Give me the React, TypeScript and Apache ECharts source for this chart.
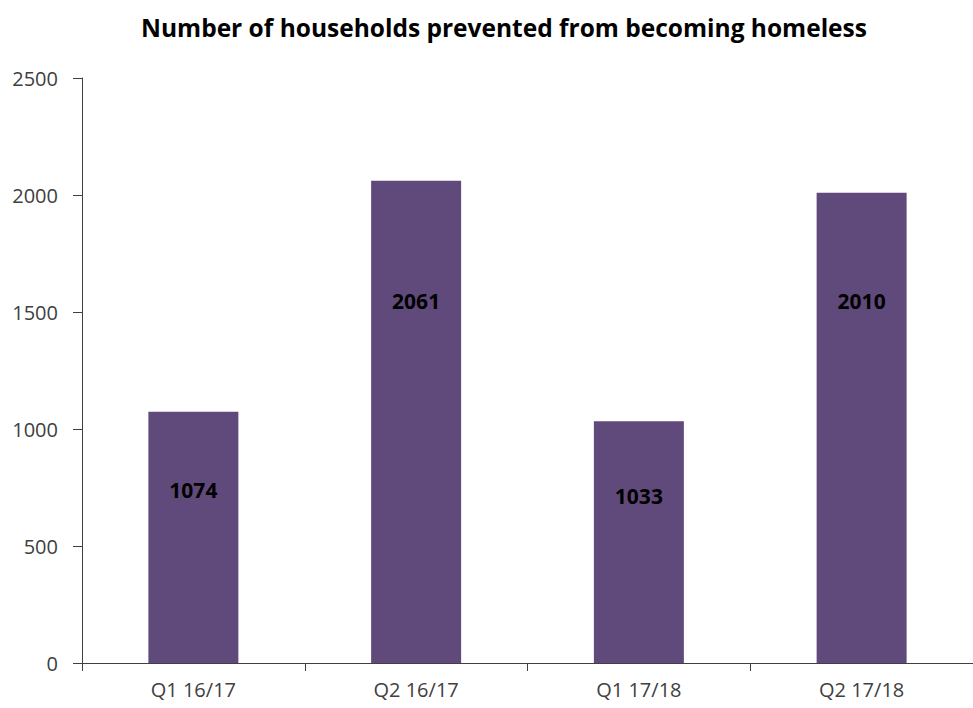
import React, { useEffect, useRef } from "react";
import * as echarts from "echarts";

const categories = ["Q1 16/17", "Q2 16/17", "Q1 17/18", "Q2 17/18"];
const values = [1074, 2061, 1033, 2010];
const yTicks = [0, 500, 1000, 1500, 2000, 2500];
const labelFractions = ["31%", "25%", "31%", "23%"];

export default function App() {
  const ref = useRef<HTMLDivElement>(null);
  useEffect(() => {
    if (!ref.current) return;
    const chart = echarts.init(ref.current, null, { renderer: "svg" });
    chart.setOption({
      animation: false,
      backgroundColor: "#ffffff",
      title: {
        text: "Number of households prevented from becoming homeless",
        left: 499,
        top: 10,
        textAlign: "center",
        textStyle: {
          fontFamily: "Open Sans",
          fontWeight: "bold",
          fontSize: 24.5,
          color: "#000000",
        },
      },
      grid: { left: 82, right: -5, top: 78, bottom: 45, containLabel: false },
      xAxis: {
        type: "category",
        data: categories,
        boundaryGap: true,
        axisLine: { show: true, lineStyle: { color: "#404040", width: 1 } },
        axisTick: { show: true, alignWithLabel: false, length: 8, lineStyle: { color: "#404040" } },
        axisLabel: {
          margin: 16,
          fontFamily: "Open Sans",
          fontSize: 20,
          color: "#404040",
        },
      },
      yAxis: {
        type: "value",
        min: yTicks[0],
        max: yTicks[yTicks.length - 1],
        interval: 500,
        axisLine: { show: true, lineStyle: { color: "#404040", width: 1 } },
        axisTick: { show: true, length: 9, lineStyle: { color: "#404040" } },
        splitLine: { show: false },
        axisLabel: {
          margin: 24,
          fontFamily: "Open Sans",
          fontSize: 20,
          color: "#404040",
          formatter: (v: number) => String(v),
        },
      },
      series: [
        {
          type: "bar",
          barWidth: 90,
          itemStyle: { color: "#604A7B" },
          data: values.map((v, i) => ({
            value: v,
            label: { position: ["50%", labelFractions[i]] },
          })),
          label: {
            show: true,
            align: "center",
            verticalAlign: "middle",
            fontFamily: "Open Sans",
            fontWeight: "bold",
            fontSize: 21,
            color: "#000000",
          },
        },
      ],
    });
    return () => chart.dispose();
  }, []);
  return (
    <div
      ref={ref}
      style={{ position: "fixed", left: 0, top: 0, width: 973, height: 708 }}
    />
  );
}
